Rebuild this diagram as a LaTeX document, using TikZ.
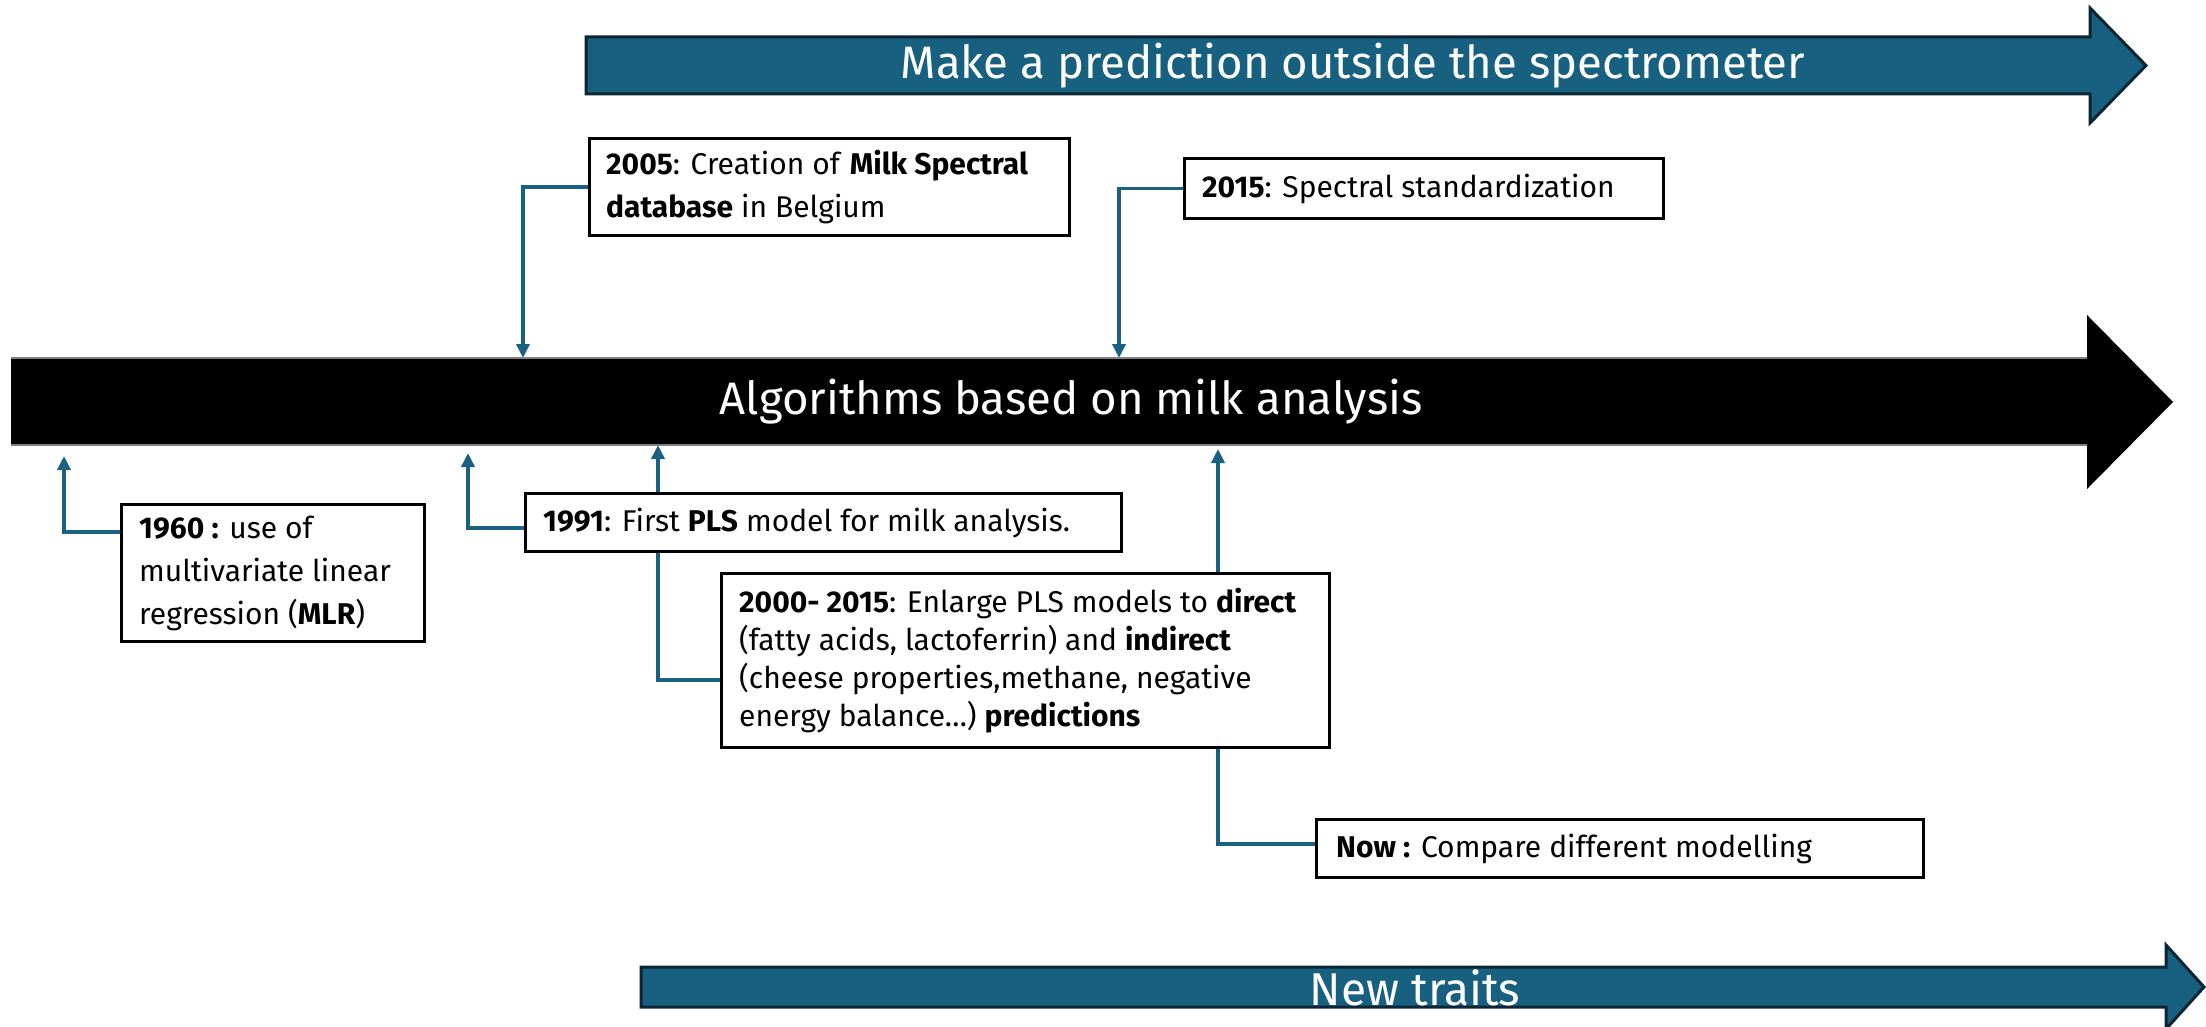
\documentclass[tikz,border=0pt]{standalone}
\usepackage{fontspec}
\setmainfont{Fira Sans}
\usetikzlibrary{arrows.meta}
\pgfdeclarelayer{under}
\pgfsetlayers{under,main}
\definecolor{bandblue}{RGB}{24,96,128}
\definecolor{bandedge}{RGB}{10,38,52}
\definecolor{linkblue}{RGB}{26,96,130}
\tikzset{
  band/.style={fill=bandblue, draw=bandedge, line width=3pt, line join=miter},
  bandtext/.style={text=white, font=\fontsize{45.5}{52}\selectfont, inner sep=0pt},
  eventbox/.style={draw=black, fill=white, line width=3pt, inner sep=0pt, anchor=north west},
  eventtext/.style={anchor=west, align=left, inner sep=0pt, font=\fontsize{30}{43}\selectfont},
  link/.style={draw=linkblue, line width=3.5pt, -{Triangle[length=14pt,width=13pt]}},
}
\begin{document}
\begin{tikzpicture}[x=1pt,y=-1pt]
\useasboundingbox (0,0) rectangle (2206,1027);

% timeline bands
\path[band] (586,37) -- (2090,37) -- (2090,8) -- (2146,65.5) -- (2090,123) -- (2090,94) -- (586,94) -- cycle;
\fill[black] (11,358) -- (2087,358) -- (2087,315) -- (2173,402) -- (2087,489) -- (2087,445) -- (11,445) -- cycle;
\draw[gray, line width=1.5pt] (11,358) -- (2087,358) (11,445) -- (2087,445);
\path[band] (641,967) -- (2166,967) -- (2166,945) -- (2204,987) -- (2166,1029) -- (2166,1007) -- (641,1007) -- cycle;

\node[bandtext] (toplbl) at (1353,66) {Make a prediction outside the spectrometer};
\node[bandtext] (mainlbl) at (1071,402) {Algorithms based on milk analysis};
\node[bandtext, font=\fontsize{46}{52}\selectfont] (botlbl) at (1415,988) {New traits};

% arrow tips on the timeline
\coordinate (t2005) at (523,358);
\coordinate (t2015) at (1119,358);
\coordinate (t1960) at (64,456);
\coordinate (t1991) at (468,453);
\coordinate (t2000) at (658,445);
\coordinate (tnow) at (1218,449);

% event boxes
\node[eventbox, minimum width=480pt, minimum height=97pt] (b2005) at (588,137) {};
\node[eventbox, minimum width=479pt, minimum height=60pt] (b2015) at (1183,157) {};
\node[eventbox, minimum width=303pt, minimum height=137pt] (b1960) at (120,503) {};
\node[eventbox, minimum width=596pt, minimum height=58pt] (b1991) at (524,492) {};
\node[eventbox, minimum width=608pt, minimum height=174pt] (b2000) at (720,572) {};
\node[eventbox, minimum width=607pt, minimum height=58pt] (bnow) at (1315,818) {};

% event texts
\node[eventtext] (x2005) at ([xshift=18pt]b2005.west)
  {\textbf{2005}: Creation of \textbf{Milk Spectral}\\\textbf{database} in Belgium};
\node[eventtext] (x2015) at ([xshift=19pt]b2015.west)
  {\textbf{2015}: Spectral standardization};
\node[eventtext] (x1960) at ([xshift=19pt]b1960.west)
  {\textbf{1960 :} use of\\multivariate linear\\regression (\textbf{MLR})};
\node[eventtext] (x1991) at ([xshift=19pt]b1991.west)
  {\textbf{1991}: First \textbf{PLS} model for milk analysis.};
\node[eventtext, font=\fontsize{30}{38}\selectfont] (x2000) at ([xshift=19pt]b2000.west)
  {\textbf{2000- 2015}: Enlarge PLS models to \textbf{direct}\\(fatty acids, lactoferrin) and \textbf{indirect}\\(cheese properties,methane, negative\\energy balance…) \textbf{predictions}};
\node[eventtext] (xnow) at ([xshift=21pt]bnow.west)
  {\textbf{Now :} Compare different modelling};

% connectors, kept underneath the boxes
\begin{pgfonlayer}{under}
\draw[link] (b2005.west) -| (t2005);
\draw[link] (b2015.west) -| (t2015);
\draw[link] ([yshift=-29pt]b1960.north west) -| (t1960);
\draw[link] ([yshift=-36pt]b1991.north west) -| (t1991);
\draw[link] ([yshift=-108pt]b2000.north west) -| (t2000);
\draw[link] ([yshift=-26pt]bnow.north west) -| (tnow);
\end{pgfonlayer}
\end{tikzpicture}
\end{document}
